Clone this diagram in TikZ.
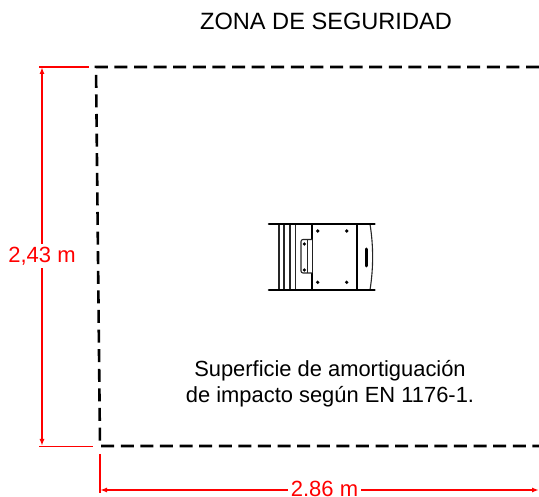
\documentclass[tikz,border=0pt]{standalone}
\usepackage{fontspec}
\setmainfont{Liberation Sans}
\usetikzlibrary{arrows.meta}
\definecolor{dimred}{RGB}{255,0,0}
\tikzset{
  zone/.style={line width=2.6pt,black,dash pattern=on 13pt off 6.6pt},
  extline/.style={line width=1.1pt,dimred},
  dimline/.style={line width=1.4pt,dimred,-{Latex[length=7pt,width=5pt]}},
  dimtext/.style={text=dimred,font=\fontsize{22}{26}\selectfont,inner xsep=3pt,inner ysep=0pt},
  title/.style={font=\fontsize{23.6}{28}\selectfont,inner sep=0pt},
  note/.style={font=\fontsize{21.9}{26}\selectfont,inner sep=0pt,align=center},
  thin part/.style={line width=1.1pt,black!85},
  thick part/.style={line width=2pt,black},
  rail/.style={line width=2.6pt,black,line cap=round},
  fix/.style={circle,fill=black,inner sep=0pt,minimum size=3.6pt}
}
\begin{document}
\begin{tikzpicture}[x=1pt,y=-1pt]
\useasboundingbox (0,0) rectangle (539,497);
% safety zone
\draw[zone] (539,67) -- (96,67) -- (100,446) -- (539,446);
% titles
\node[title] (ztitle) at (326,21) {ZONA DE SEGURIDAD};
\node[note] (surface) at (330,383.5) {Superficie de amortiguación\\de impacto según EN 1176-1.};
% dimension helpers
\coordinate (vtop) at (42,67);
\coordinate (vbot) at (42,446);
\coordinate (hleft) at (100,490);
\coordinate (hright) at (539,490);
\node[dimtext] (vlabel) at (42,256) {2,43 m};
\node[dimtext] (hlabel) at (324.5,488.8) {2.86 m};
\draw[extline] (39,67) -- (89,67);
\draw[extline] (39,446.5) -- (93,446.5);
\draw[extline] (100,454) -- (100,493);
\draw[dimline] ([yshift=3pt]vlabel.north) -- (vtop);
\draw[dimline] ([yshift=-3pt]vlabel.south) -- (vbot);
\draw[dimline] (hlabel.west |- hleft) -- (hleft);
\draw[dimline] (hlabel.east |- hright) -- (hright);
% equipment
\draw[thin part] (279,224) -- (279,290) (284,224) -- (284,290) (290,224) -- (290,290) (295.5,224) -- (295.5,290);
\draw[thick part] (312,224) -- (312,290) (357,224) -- (357,290);
\draw[thin part] (370,224) .. controls (373.5,246) and (373.5,268) .. (370,290);
\draw[rail] (269,224) -- (374.5,224);
\draw[rail] (269,290) -- (374.5,290);
\draw[thin part,rounded corners=2pt,fill=white] (312,239.5) -- (301,239.5) -- (301,273) -- (312,273);
\draw[thin part] (307.7,239.5) -- (307.7,273);
\node[fix] (f1) at (304.3,244) {};
\node[fix] (f2) at (304.3,270) {};
\node[fix] (f3) at (317.7,231) {};
\node[fix] (f4) at (346.7,231) {};
\node[fix] (f5) at (317.7,282.3) {};
\node[fix] (f6) at (346.7,282.3) {};
\draw[line width=3pt,black,line cap=round] (366.8,249) -- (366.8,266);
\end{tikzpicture}
\end{document}
